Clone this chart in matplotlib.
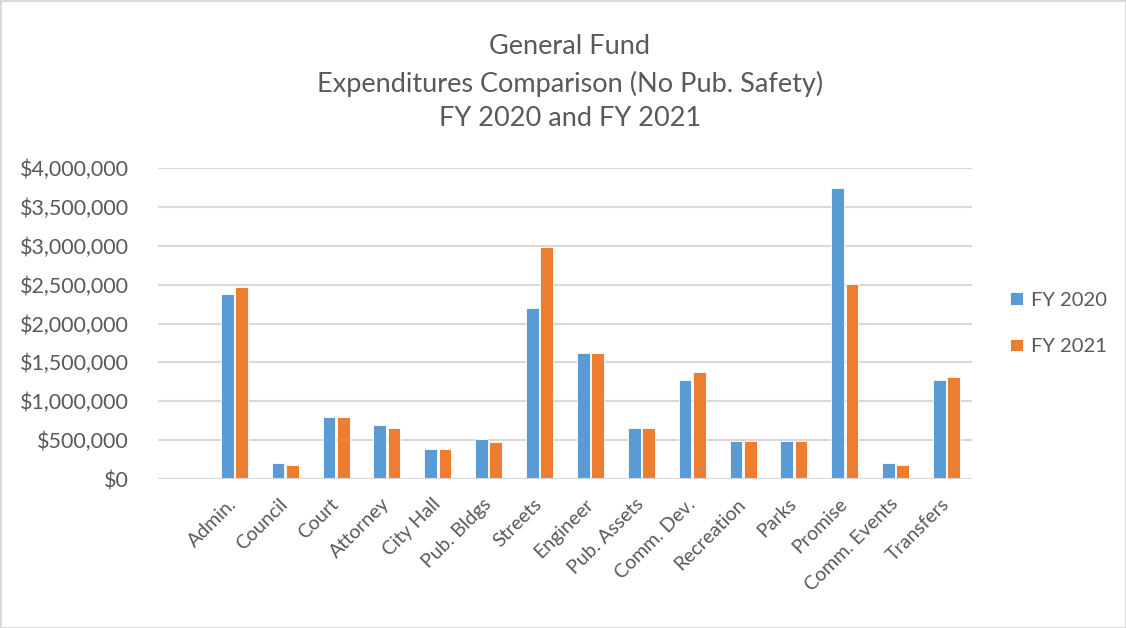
import matplotlib.pyplot as plt
import numpy as np
from matplotlib.ticker import FuncFormatter, MultipleLocator

categories = ['Admin.', 'Council', 'Court', 'Attorney', 'City Hall', 'Pub. Bldgs',
              'Streets', 'Engineer', 'Pub. Assets', 'Comm. Dev.', 'Recreation',
              'Parks', 'Promise', 'Comm. Events', 'Transfers']
fy2020 = [2375000, 210000, 795000, 695000, 380000, 515000, 2200000, 1615000,
          655000, 1275000, 485000, 485000, 3740000, 205000, 1275000]
fy2021 = [2475000, 175000, 795000, 655000, 380000, 480000, 2985000, 1615000,
          655000, 1375000, 485000, 485000, 2505000, 175000, 1310000]

blue = '#5B9BD5'
orange = '#ED7D31'
grey_text = '#595959'
grid_col = '#D9D9D9'
font = ['Lato', 'DejaVu Sans']

plt.rcParams['font.family'] = font

fig = plt.figure(figsize=(11.26, 6.28), dpi=100)
fig.patch.set_edgecolor(grid_col)
fig.patch.set_linewidth(2)
ax = fig.add_axes([158 / 1126, 1 - 479 / 628, 814 / 1126, 311 / 628])

x = np.arange(len(categories))
w = 0.25
off = 0.14
ax.bar(x - off, fy2020, w, color=blue, edgecolor='white', linewidth=0.6, label='FY 2020', zorder=3)
ax.bar(x + off, fy2021, w, color=orange, edgecolor='white', linewidth=0.6, label='FY 2021', zorder=3)

ax.set_xlim(-1.5, len(categories) - 0.5)
ax.set_ylim(0, 4000000)
ax.yaxis.set_major_locator(MultipleLocator(500000))
ax.yaxis.set_major_formatter(FuncFormatter(lambda v, p: '${:,.0f}'.format(v)))
ax.grid(axis='y', color=grid_col, linewidth=1.5, zorder=0)
ax.axhline(0, color=grid_col, linewidth=1.5, zorder=4)
for s in ax.spines.values():
    s.set_visible(False)
ax.tick_params(axis='both', length=0, colors=grey_text, labelsize=15.5)
ax.tick_params(axis='y', pad=21)

ax.set_xticks(x)
ax.set_xticklabels(categories, rotation=45, ha='right', va='center',
                   rotation_mode='anchor', fontsize=14, color=grey_text)
ax.tick_params(axis='x', pad=16)

fig.text(0.506, 1 - 46 / 628, 'General Fund', ha='center', va='center', fontsize=19.5, color=grey_text)
fig.text(0.506, 1 - 84 / 628, 'Expenditures Comparison (No Pub. Safety)', ha='center', va='center',
         fontsize=19.5, color=grey_text)
fig.text(0.506, 1 - 119 / 628, 'FY 2020 and FY 2021', ha='center', va='center', fontsize=19.5, color=grey_text)

leg = ax.legend(loc='center left', bbox_to_anchor=(1.025, 0.5), frameon=False, fontsize=14.5,
                handlelength=0.6, handleheight=0.6, handletextpad=0.4, labelspacing=1.45)
for t in leg.get_texts():
    t.set_color(grey_text)

fig.savefig('out.png', dpi=100)
